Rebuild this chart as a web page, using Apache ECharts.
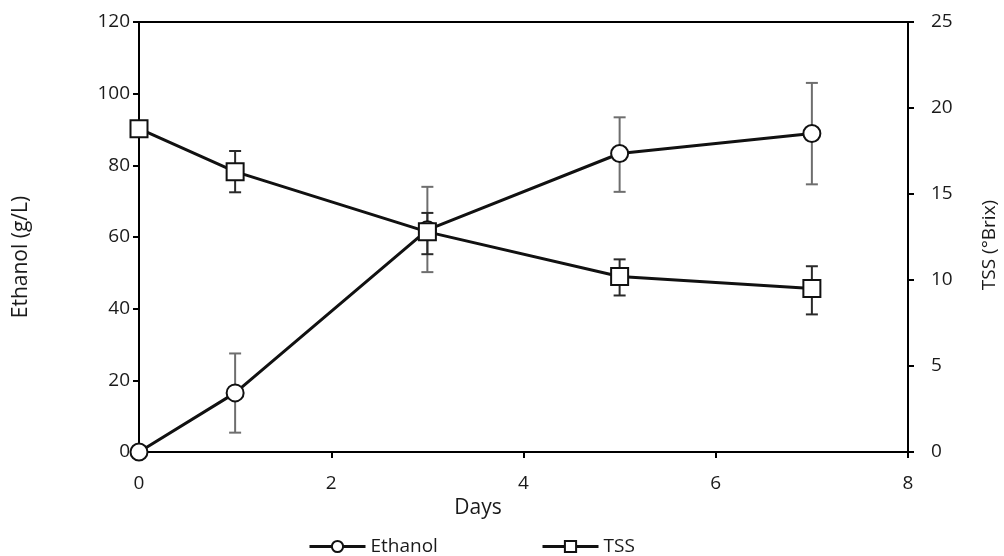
<!DOCTYPE html>
<html>
<head>
<meta charset="utf-8">
<script src="https://cdn.jsdelivr.net/npm/echarts@6/dist/echarts.min.js"></script>
<style>
  html, body { margin: 0; padding: 0; background: #fff; }
  #chart { width: 1004px; height: 556px; }
</style>
</head>
<body>
<div id="chart"></div>
<script>
// Fermentation time course: ethanol (left axis) and total soluble solids (right axis)
const days = [0, 1, 3, 5, 7];
const ethanol = [0, 16.5, 62, 83.3, 88.9];
const ethanolLow = [0, 5.4, 50.2, 72.6, 74.7];
const ethanolHigh = [0, 27.5, 74.0, 93.4, 103.0];
const tss = [18.8, 16.3, 12.8, 10.2, 9.5];
const tssLow = [18.8, 15.1, 11.5, 9.1, 8.0];
const tssHigh = [18.8, 17.5, 13.9, 11.2, 10.8];
const xTicks = { min: 0, max: 8, interval: 2 };
const leftTicks = { min: 0, max: 120, interval: 20 };
const rightTicks = { min: 0, max: 25, interval: 5 };

const FONT = '"Open Sans", "Noto Sans", sans-serif';
const TEXT = '#1a1a1a';

function pairs(xs, ys) { return xs.map((x, i) => [x, ys[i]]); }
function errData(xs, lo, hi) {
  return xs.map((x, i) => [x, lo[i], hi[i]]).filter(d => d[1] !== d[2]);
}
function errRenderer(color, cap) {
  return function (params, api) {
    const x = api.value(0);
    const lo = api.coord([x, api.value(1)]);
    const hi = api.coord([x, api.value(2)]);
    const style = { stroke: color, lineWidth: 2 };
    return {
      type: 'group',
      children: [
        { type: 'line', shape: { x1: lo[0], y1: lo[1], x2: hi[0], y2: hi[1] }, style },
        { type: 'line', shape: { x1: lo[0] - cap, y1: lo[1], x2: lo[0] + cap, y2: lo[1] }, style },
        { type: 'line', shape: { x1: hi[0] - cap, y1: hi[1], x2: hi[0] + cap, y2: hi[1] }, style }
      ]
    };
  };
}

const axisLine = { show: true, lineStyle: { color: '#000', width: 2 } };
const axisTick = { show: true, inside: false, length: 6, lineStyle: { color: '#000', width: 2 } };
const tickFont = { color: TEXT, fontFamily: FONT, fontSize: 19 };
const legendFont = { color: TEXT, fontFamily: FONT, fontSize: 19 };

const chart = echarts.init(document.getElementById('chart'));
chart.setOption({
  animation: false,
  backgroundColor: '#fff',
  grid: { left: 139, right: 96, top: 22, bottom: 104, show: true, borderColor: '#000', borderWidth: 2 },
  xAxis: {
    type: 'value', min: xTicks.min, max: xTicks.max, interval: xTicks.interval,
    axisLine, axisTick,
    axisLabel: Object.assign({ margin: 22 }, tickFont),
    splitLine: { show: false }
  },
  yAxis: [
    {
      type: 'value', min: leftTicks.min, max: leftTicks.max, interval: leftTicks.interval,
      position: 'left', axisLine, axisTick,
      axisLabel: Object.assign({ margin: 9 }, tickFont),
      splitLine: { show: false }
    },
    {
      type: 'value', min: rightTicks.min, max: rightTicks.max, interval: rightTicks.interval,
      position: 'right', axisLine, axisTick,
      axisLabel: Object.assign({ margin: 23 }, tickFont),
      splitLine: { show: false }
    }
  ],
  legend: [
    {
      data: ['Ethanol'], left: 308, top: 537, padding: 0, itemWidth: 56, itemHeight: 14, itemGap: 0,
      lineStyle: { width: 3 }, textStyle: legendFont
    },
    {
      data: ['TSS'], left: 541, top: 537, padding: 0, itemWidth: 56, itemHeight: 14, itemGap: 0,
      lineStyle: { width: 3 }, textStyle: legendFont
    }
  ],
  graphic: [
    { type: 'text', x: 21, y: 257, rotation: Math.PI / 2,
      style: { text: 'Ethanol (g/L)', fill: TEXT, font: '21px ' + FONT, textAlign: 'center', textVerticalAlign: 'middle' } },
    { type: 'text', x: 990, y: 245, rotation: Math.PI / 2,
      style: { text: 'TSS (°Brix)', fill: TEXT, font: '19px ' + FONT, textAlign: 'center', textVerticalAlign: 'middle' } },
    { type: 'text', x: 478, y: 508,
      style: { text: 'Days', fill: TEXT, font: '21px ' + FONT, textAlign: 'center', textVerticalAlign: 'middle' } }
  ],
  series: [
    {
      name: 'ethanolErr', type: 'custom', yAxisIndex: 0, z: 2,
      renderItem: errRenderer('#6e6e6e', 6),
      data: errData(days, ethanolLow, ethanolHigh)
    },
    {
      name: 'tssErr', type: 'custom', yAxisIndex: 1, z: 3,
      renderItem: errRenderer('#2a2a2a', 6),
      data: errData(days, tssLow, tssHigh)
    },
    {
      name: 'Ethanol', type: 'line', yAxisIndex: 0, z: 4,
      data: pairs(days, ethanol),
      symbol: 'circle', symbolSize: 17,
      lineStyle: { color: '#111', width: 3 },
      itemStyle: { color: '#fff', borderColor: '#111', borderWidth: 2 }
    },
    {
      name: 'TSS', type: 'line', yAxisIndex: 1, z: 5,
      data: pairs(days, tss),
      symbol: 'rect', symbolSize: 17,
      lineStyle: { color: '#111', width: 3 },
      itemStyle: { color: '#fff', borderColor: '#111', borderWidth: 2 }
    }
  ]
});
</script>
</body>
</html>
